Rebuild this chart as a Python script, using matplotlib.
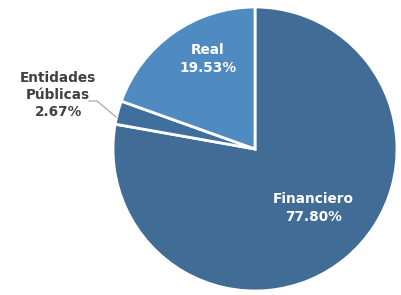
import matplotlib
matplotlib.use("Agg")
import matplotlib.pyplot as plt

categories = ["Financiero", "Entidades\nPúblicas", "Real"]
values = [77.80, 2.67, 19.53]
colors = ["#406c96", "#3f6f9e", "#4f8bc1"]

W, H = 401, 295
fig = plt.figure(figsize=(W / 100, H / 100), dpi=100)
ax = fig.add_axes([0, 0, 1, 1])
cx, cy, r = 255, H - 149, 142
wedges, _ = ax.pie(values, colors=colors, startangle=90, counterclock=False,
                   center=(cx, cy), radius=r,
                   wedgeprops=dict(edgecolor="white", linewidth=2))
ax.set_xlim(0, W)
ax.set_ylim(0, H)
ax.set_aspect("equal")
ax.axis("off")

fs = 9.8
kw = dict(ha="center", va="center", fontsize=fs, fontweight="bold",
          family="DejaVu Sans", linespacing=1.3)
ax.text(313, H - 208, f"{categories[0]}\n{values[0]:.2f}%", color="white", **kw)
ax.text(208, H - 59, f"{categories[2]}\n{values[2]:.2f}%", color="white", **kw)
ax.text(58, H - 95, f"{categories[1]}\n{values[1]:.2f}%", color="#404040", **kw)
ax.plot([89, 97, 116], [H - 101, H - 101, H - 117], color="#a0a0a0", lw=0.8)

fig.savefig("out.png", dpi=100)
